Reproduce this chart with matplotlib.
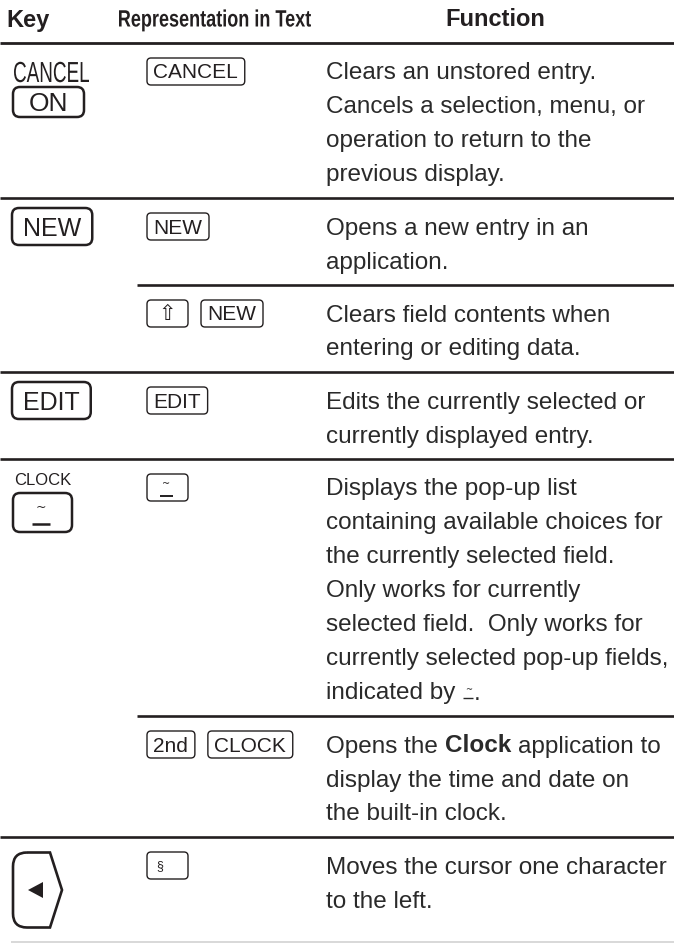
import matplotlib
matplotlib.use("Agg")
import matplotlib.pyplot as plt
from matplotlib.patches import FancyBboxPatch, PathPatch, Polygon
from matplotlib.path import Path
from matplotlib.textpath import TextPath
from matplotlib.font_manager import FontProperties
from matplotlib.transforms import Affine2D

FONT = "Liberation Sans"
INK = "#231f20"
TEXT = "#2a2a2a"

# table content
HEADERS = ["Key", "Representation in Text", "Function"]
KEY_TOP_LABELS = ["CANCEL", "", "", "", "CLOCK", "", ""]
KEY_CAPS = ["ON", "NEW", "", "EDIT", "~_", "", "LEFT"]
REP_KEYS = [["CANCEL"], ["NEW"], ["⇧", "NEW"], ["EDIT"], ["~_"], ["2nd", "CLOCK"], ["§"]]
FUNCTION_LINES = [
    ["Clears an unstored entry.",
     "Cancels a selection, menu, or",
     "operation to return to the",
     "previous display."],
    ["Opens a new entry in an",
     "application."],
    ["Clears field contents when",
     "entering or editing data."],
    ["Edits the currently selected or",
     "currently displayed entry."],
    ["Displays the pop-up list",
     "containing available choices for",
     "the currently selected field.",
     "Only works for currently",
     "selected field.  Only works for",
     "currently selected pop-up fields,",
     "indicated by ~_."],
    ["Opens the **Clock** application to",
     "display the time and date on",
     "the built-in clock."],
    ["Moves the cursor one character",
     "to the left."],
]
ROW_RULES = ["full", "partial", "full", "full", "partial", "full", "bottom"]

# layout (pixels)
W, H = 674, 944
DPI = 100
HEADER_RULE_Y = 43
TOP_PAD = 28
PITCH = 34
BOTTOM_PAD = 25
TEXT_X = 326
REP_X = 147
PARTIAL_X = 137
BODY_PT = 17.5

fig = plt.figure(figsize=(W / DPI, H / DPI), dpi=DPI)
ax = fig.add_axes([0, 0, 1, 1])
ax.set_xlim(0, W)
ax.set_ylim(H, 0)
ax.axis("off")
renderer = fig.canvas.get_renderer()


def px(pt):
    return pt * DPI / 72.0


def text_width(t):
    bb = t.get_window_extent(renderer)
    return bb.width


def narrow_text(x, base, s, size_px, width=None, weight="normal", color=INK, sx=0.75):
    # condensed lettering: glyph outlines squeezed horizontally
    fp = FontProperties(family=FONT, weight=weight)
    tp = TextPath((0, 0), s, size=size_px, prop=fp)
    ext = tp.get_extents()
    if width is not None:
        sx = width / ext.width
    tr = Affine2D().translate(-ext.x0, 0).scale(sx, -1).translate(x, base)
    ax.add_patch(PathPatch(tr.transform_path(tp), fc=color, ec="none", lw=0))


def put(x, base, s, bold=False, size=BODY_PT, color=TEXT):
    space = 0.278 * px(size)
    lead = len(s) - len(s.lstrip(" "))
    trail = len(s) - len(s.rstrip(" "))
    x += lead * space
    core = s.strip(" ")
    if core:
        t = ax.text(x, base, core, fontsize=size, family=FONT, color=color,
                    fontweight="bold" if bold else "normal", va="baseline", ha="left")
        x += text_width(t)
    return x + trail * space


def tilde_underscore(cx, ty, uy, half, tsize, lw, color=INK):
    ax.text(cx, ty, "~", fontsize=tsize, family="DejaVu Sans", color=color,
            ha="center", va="center")
    ax.plot([cx - half, cx + half], [uy, uy], color=color, lw=lw, solid_capstyle="butt")


def draw_rich(x, base, s):
    # **bold** segments and the ~_ pop-up glyph
    parts = s.split("**")
    for i, part in enumerate(parts):
        chunks = part.split("~_")
        for j, chunk in enumerate(chunks):
            if j > 0:
                tilde_underscore(x + 6, base - 10, base - 1.5, 5, 6, 1.0, TEXT)
                x += 12
            if chunk:
                x = put(x, base, chunk, bold=(i % 2 == 1))


def box(x0, y0, w, h, lw, r):
    ax.add_patch(FancyBboxPatch((x0, y0), w, h, boxstyle=f"round,pad=0,rounding_size={r}",
                                fc="white", ec=INK, lw=lw))


def rep_keys(labels, c0):
    x = REP_X
    for lab in labels:
        if lab in ("⇧", "~_", "§"):
            w = 41
        else:
            t = ax.text(0, -100, lab, fontsize=15, family=FONT)
            w = text_width(t) + 13
            t.remove()
        box(x, c0 - 13, w, 27, 1.0, 4)
        cx = x + w / 2
        if lab == "⇧":
            ax.text(cx, c0 + 1, lab, fontsize=15, family="DejaVu Sans", color=INK,
                    ha="center", va="center")
        elif lab == "~_":
            tilde_underscore(cx - 1, c0 - 3, c0 + 9, 6.5, 7, 1.4)
        elif lab == "§":
            ax.text(x + 13, c0 + 1, lab, fontsize=9, family=FONT, color=INK,
                    ha="center", va="center")
        else:
            ax.text(cx, c0 + 7.5, lab, fontsize=15, family=FONT, color=INK,
                    ha="center", va="baseline")
        x += w + 13


def key_cap(cap, top_label, c0):
    if cap == "ON":
        narrow_text(14, c0 + 11, top_label, 29, width=75)
        box(13, c0 + 16, 71, 30, 1.8, 7)
        ax.text(48.5, c0 + 31 + 9.4, cap, fontsize=19, family=FONT, color=INK,
                ha="center", va="baseline")
    elif cap in ("NEW", "EDIT"):
        t = ax.text(0, -100, cap, fontsize=18, family=FONT)
        w = text_width(t) + 22
        t.remove()
        box(12, c0 - 18, w, 37, 1.8, 7)
        ax.text(12 + w / 2, c0 + 0.5 + 9, cap, fontsize=18, family=FONT, color=INK,
                ha="center", va="baseline")
    elif cap == "~_":
        ax.text(14, c0 - 2, top_label, fontsize=12, family=FONT, color=INK,
                ha="left", va="baseline")
        box(13, c0 + 6, 59, 39, 1.8, 7)
        tilde_underscore(41, c0 + 20, c0 + 37, 9, 9, 1.8)
    elif cap == "LEFT":
        yc = c0 + 25
        top, bot = yc - 37.5, yc + 37.5
        verts = [(27, top), (50, top), (62, yc), (50, bot), (27, bot),
                 (13, bot), (13, bot - 14), (13, top + 14), (13, top), (27, top)]
        codes = [Path.MOVETO, Path.LINETO, Path.LINETO, Path.LINETO, Path.LINETO,
                 Path.CURVE3, Path.CURVE3, Path.LINETO, Path.CURVE3, Path.CURVE3]
        ax.add_patch(PathPatch(Path(verts, codes), fc="white", ec=INK, lw=1.9,
                               joinstyle="miter"))
        ax.add_patch(Polygon([(28, yc), (43, yc - 8), (43, yc + 8)], closed=True,
                             fc=INK, ec="none"))


# header
ax.text(6, 26.5, HEADERS[0], fontsize=17, family=FONT, fontweight="bold",
        color=INK, va="baseline")
narrow_text(119, 26.5, HEADERS[1], 23.6, width=192, weight="bold")
ax.text(495, 26.5, HEADERS[2], fontsize=17, family=FONT, fontweight="bold",
        color=INK, va="baseline", ha="center")
ax.plot([0, W], [HEADER_RULE_Y, HEADER_RULE_Y], color=INK, lw=2.0, solid_capstyle="butt")

# rows
y = HEADER_RULE_Y
for i, lines in enumerate(FUNCTION_LINES):
    c0 = y + TOP_PAD
    for k, line in enumerate(lines):
        draw_rich(TEXT_X, c0 + k * PITCH + 8.5, line)
    if KEY_CAPS[i]:
        key_cap(KEY_CAPS[i], KEY_TOP_LABELS[i], c0)
    rep_keys(REP_KEYS[i], c0)

    y_end = c0 + (len(lines) - 1) * PITCH + BOTTOM_PAD
    rule = ROW_RULES[i]
    if rule == "full":
        ax.plot([0, W], [y_end, y_end], color=INK, lw=1.9, solid_capstyle="butt")
    elif rule == "partial":
        ax.plot([PARTIAL_X, W], [y_end, y_end], color=INK, lw=1.9, solid_capstyle="butt")
    else:
        y_end = 942
        ax.plot([11, W], [y_end, y_end], color="#d2d2d2", lw=1.2, solid_capstyle="butt")
    y = y_end

fig.savefig("out.png", dpi=DPI, facecolor="white")
